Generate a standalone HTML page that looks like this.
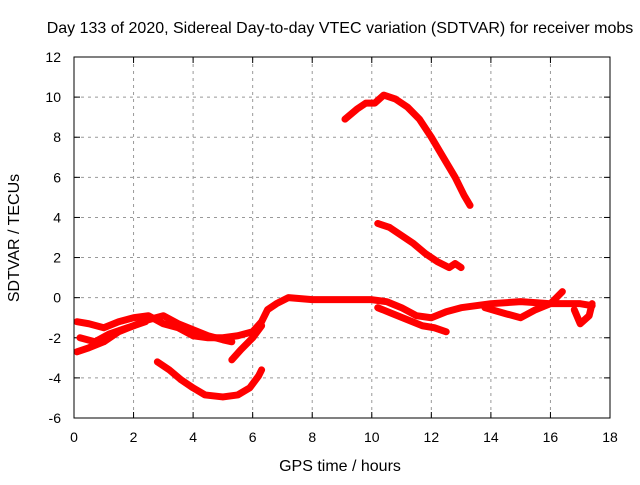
<!DOCTYPE html>
<html><head><meta charset="utf-8"><style>
body{margin:0;background:#fff;}
svg text{font-family:"Liberation Sans",sans-serif;font-size:14px;fill:#000;}
svg text.big{font-size:16px;}
</style></head><body>
<svg width="640" height="480" id="c">
<rect width="640" height="480" fill="#fff"/>
<text class="big" x="340" y="33" text-anchor="middle">Day 133 of 2020, Sidereal Day-to-day VTEC variation (SDTVAR) for receiver mobs</text>
<text class="big" x="340" y="471" text-anchor="middle">GPS time / hours</text>
<text class="big" transform="translate(19,238) rotate(-90)" text-anchor="middle">SDTVAR / TECUs</text>
<g id="grid"></g><g id="ser"></g>
<rect x="74" y="57" width="536" height="361" fill="none" stroke="#000" stroke-width="1"/>
</svg>
<script>
const xTicks=[0,2,4,6,8,10,12,14,16,18];
const yTicks=[-6,-4,-2,0,2,4,6,8,10,12];
const sArcLowX=[2.8,3.2,3.6,4.0,4.4,5.0,5.5,5.9,6.2,6.3];
const sArcLowY=[-3.2,-3.6,-4.1,-4.5,-4.85,-4.95,-4.85,-4.5,-3.9,-3.6];
const sMainX=[0.1,0.5,1,1.5,2,2.5,3,3.5,4,4.5,5,5.5,6,6.3,6.5,6.8,7.2,8,9,10,10.5,11,11.5,12,12.5,13,14,15,16,17,17.4];
const sMainY=[-1.2,-1.3,-1.5,-1.2,-1.0,-0.9,-1.3,-1.5,-1.9,-2.0,-2.0,-1.9,-1.7,-1.2,-0.6,-0.3,0,-0.1,-0.1,-0.1,-0.2,-0.5,-0.9,-1.0,-0.7,-0.5,-0.3,-0.2,-0.3,-0.3,-0.4];
const sLow1X=[0.1,0.5,1,1.5,2,2.5,3,3.5,4,4.5,5,5.3];
const sLow1Y=[-2.7,-2.5,-2.2,-1.7,-1.4,-1.1,-0.9,-1.3,-1.6,-1.9,-2.1,-2.2];
const sLow2X=[0.2,0.7,1.2,1.8,2.4];
const sLow2Y=[-2.0,-2.2,-1.8,-1.5,-1.2];
const sRiseX=[5.3,5.6,6,6.3];
const sRiseY=[-3.1,-2.6,-2.0,-1.4];
const sDipX=[10.2,10.7,11.2,11.7,12.1,12.5];
const sDipY=[-0.5,-0.8,-1.1,-1.4,-1.5,-1.7];
const sLateX=[13.8,14.5,15,15.5,16,16.4];
const sLateY=[-0.5,-0.8,-1.0,-0.6,-0.3,0.3];
const sEndX=[16.8,17,17.3,17.4];
const sEndY=[-0.6,-1.3,-0.9,-0.3];
const sTopX=[9.1,9.5,9.8,10.1,10.4,10.8,11.2,11.6,12,12.4,12.8,13.1,13.3];
const sTopY=[8.9,9.4,9.7,9.7,10.1,9.9,9.5,8.9,8.0,7.0,6.0,5.1,4.6];
const sMidX=[10.2,10.6,11,11.4,11.8,12.2,12.6,12.8,13];
const sMidY=[3.7,3.5,3.1,2.7,2.2,1.8,1.5,1.7,1.5];
const series=[[sArcLowX,sArcLowY],[sMainX,sMainY],[sLow1X,sLow1Y],[sLow2X,sLow2Y],[sRiseX,sRiseY],[sDipX,sDipY],[sLateX,sLateY],[sEndX,sEndY],[sTopX,sTopY],[sMidX,sMidY]];
const X=v=>74+v*(536/18), Y=v=>418-(v+6)*(361/18);
const NS="http://www.w3.org/2000/svg";
const g=document.getElementById('grid'), s=document.getElementById('ser');
function mk(t,a,p){const e=document.createElementNS(NS,t);for(const k in a)e.setAttribute(k,a[k]);p.appendChild(e);return e;}
xTicks.forEach(v=>{
 if(v>0&&v<18){const l=mk('line',{x1:X(v),x2:X(v),y1:57,y2:418,stroke:'#999','stroke-dasharray':'3,4'},g);
 
 }
 mk('line',{x1:X(v),x2:X(v),y1:418,y2:412,stroke:'#000'},g);
 mk('line',{x1:X(v),x2:X(v),y1:57,y2:63,stroke:'#000'},g);
 const t=mk('text',{x:X(v),y:442,'text-anchor':'middle'},g);t.textContent=v;
 
 
});
yTicks.forEach(v=>{
 if(v>-6&&v<12){const l=mk('line',{x1:74,x2:610,y1:Y(v),y2:Y(v),stroke:'#999','stroke-dasharray':'3,4'},g);
 
 }
 mk('line',{x1:74,x2:80,y1:Y(v),y2:Y(v),stroke:'#000'},g);
 mk('line',{x1:604,x2:610,y1:Y(v),y2:Y(v),stroke:'#000'},g);
 const t=mk('text',{x:61,y:Y(v)+5,'text-anchor':'end'},g);t.textContent=v;
 
 
});
series.forEach(([xs,ys])=>{
 const p=mk('polyline',{points:xs.map((x,i)=>X(x)+','+Y(ys[i])).join(' '),fill:'none',stroke:'#f00','stroke-width':7,'stroke-linejoin':'round','stroke-linecap':'round'},s);
 
 
});
</script>
</body></html>
